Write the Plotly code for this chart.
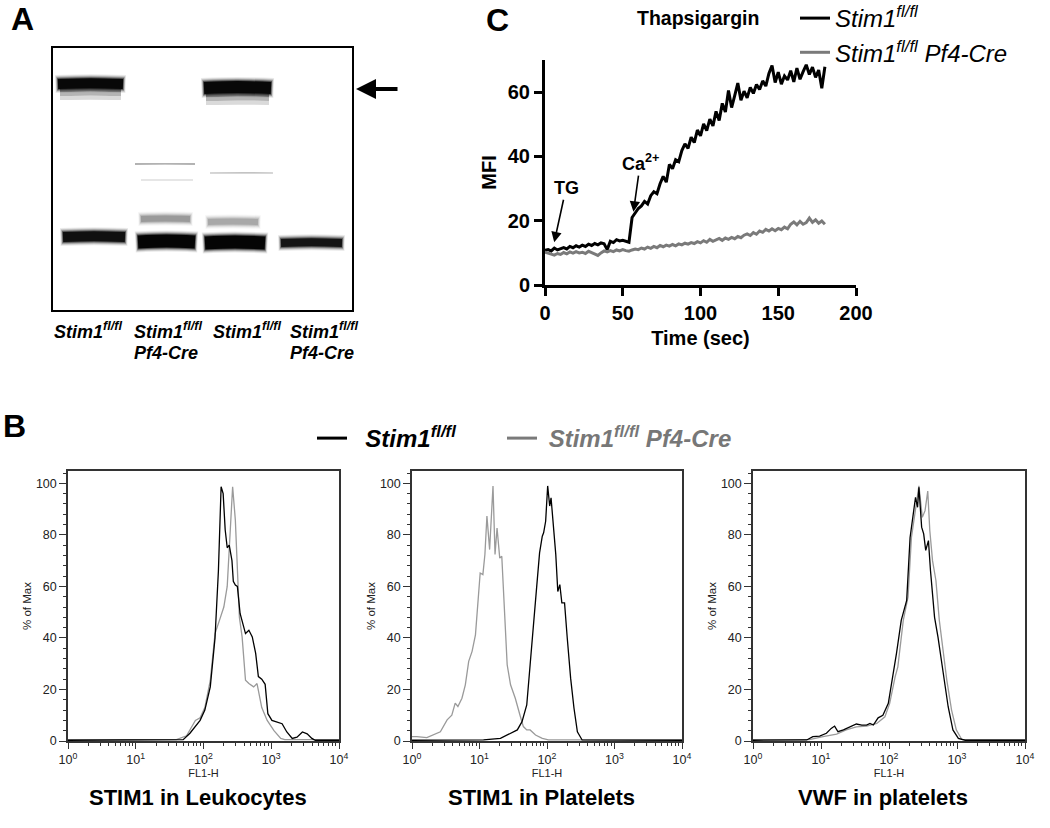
import plotly.graph_objects as go

W, H = 1050, 828
FONT = "Liberation Sans, Arial, Helvetica, sans-serif"

# ---------------- Panel C: Ca2+ flux (MFI vs time) ----------------
time_sec = list(range(0, 181, 2))
mfi_fl = [10.8, 11.0, 10.6, 11.5, 10.9, 11.3, 11.6, 11.2, 12.0, 11.6,
          12.2, 11.8, 12.4, 12.0, 12.7, 12.3, 12.9, 12.5, 13.1, 12.8,
          11.0, 13.6, 13.2, 14.1, 13.7, 13.9, 13.5, 13.3, 21.0, 22.5,
          23.8, 24.6, 26.0, 25.2, 27.8, 29.0, 28.4, 31.5, 33.8, 32.0,
          37.5, 36.2, 39.0, 38.4, 41.8, 43.9, 42.5, 46.0, 44.3, 48.2,
          46.4, 50.1, 48.0, 51.6, 49.5, 54.0, 51.2, 56.5, 53.8, 60.5,
          55.2, 58.9, 62.8, 57.5, 60.3, 58.2, 61.5, 59.6, 62.4, 60.8,
          63.5, 61.9, 65.8, 68.3, 63.0, 66.2, 62.5, 65.0, 63.8, 66.7,
          63.2, 67.5, 64.0, 66.4, 68.5, 65.5, 67.8, 64.6, 66.9, 61.2,
          67.9]
mfi_cre = [10.2, 10.0, 9.6, 9.3, 9.8, 9.5, 10.1, 9.7, 10.3, 9.9,
           10.4, 10.0, 10.2, 9.8, 10.5, 10.1, 9.6, 9.2, 10.0, 10.6,
           10.3, 10.7, 10.4, 10.9, 10.6, 11.0, 10.7, 10.5, 10.9, 11.2,
           11.0, 11.5, 11.2, 11.8, 11.4, 12.0, 11.6, 12.3, 11.9, 12.4,
           12.1, 12.6, 12.2, 12.8, 12.5, 13.0, 12.7, 13.2, 12.9, 13.5,
           13.1, 13.8, 13.3, 14.2, 13.6, 14.0, 14.5, 13.9, 14.6, 14.2,
           14.8, 14.4, 15.1, 14.7, 15.5, 15.9, 15.4, 16.3, 15.8, 16.8,
           16.4, 17.3, 16.8, 17.5, 16.9, 17.6, 17.2, 18.0, 17.5, 18.9,
           19.6, 18.7, 19.8, 18.9, 19.4, 20.8, 19.5, 20.3, 19.2, 19.9,
           18.9]
c_xticks = [0, 50, 100, 150, 200]
c_yticks = [0, 20, 40, 60]

# ---------------- Panel B: flow cytometry histograms ----------------
# log10(FL1-H) positions and % of Max
leuk_fl_log = [0, 1.6, 1.7, 1.8, 1.95, 2.02, 2.1, 2.17, 2.22, 2.26, 2.29, 2.32, 2.35, 2.38, 2.42, 2.44,
               2.47, 2.5, 2.54, 2.62, 2.67, 2.72, 2.77, 2.81, 2.86, 2.91, 2.95, 3.01, 3.09, 3.16,
               3.23, 3.31, 3.38, 3.46, 3.53, 3.6, 3.65, 4]
leuk_fl_pct = [0.3, 0.3, 0.5, 3, 8, 12, 21, 40, 66, 98.7, 96, 82, 75, 76, 70, 62,
               60.5, 60, 49.5, 41.7, 43, 40.4, 34, 25, 24, 22, 10.6, 8, 7.4, 6.7,
               3.5, 1, 1.5, 3.5, 2.8, 1, 0.3, 0.3]
leuk_cre_log = [0, 1.6, 1.75, 1.88, 1.95, 2.02, 2.1, 2.17, 2.25, 2.3, 2.35, 2.4, 2.43, 2.47, 2.5,
                2.53, 2.57, 2.62, 2.67, 2.74, 2.79, 2.86, 2.94, 3.04, 3.14, 3.2, 4]
leuk_cre_pct = [0.5, 0.5, 2, 8, 9, 13, 23.5, 41.7, 48, 52, 60, 85.8, 98.7, 85.8, 65,
                48, 40.4, 23.6, 22.3, 21, 22.3, 13, 8, 4, 1, 0.5, 0.5]

plt_fl_log = [0, 1.06, 1.31, 1.46, 1.56, 1.63, 1.7, 1.75, 1.8, 1.85, 1.89, 1.93, 1.95, 1.98, 2.01,
              2.04, 2.06, 2.1, 2.13, 2.16, 2.19, 2.22, 2.26, 2.3, 2.35, 2.4, 2.45, 2.52, 4]
plt_fl_pct = [0.3, 0.4, 1, 3, 4.3, 7.5, 14, 29.6, 43.8, 60.7, 73, 79.5, 80.8, 85.3, 99,
              91.2, 94.4, 81.5, 72.4, 58, 60.7, 53.6, 53.6, 40, 24.4, 12.7, 3.6, 0.4, 0.3]
plt_cre_log = [0, 0.07, 0.22, 0.32, 0.42, 0.52, 0.59, 0.64, 0.68, 0.74, 0.79, 0.84, 0.89, 0.94, 0.97,
               1.01, 1.05, 1.08, 1.11, 1.15, 1.2, 1.23, 1.26, 1.3, 1.33, 1.37, 1.41, 1.46, 1.53,
               1.6, 1.65, 1.7, 1.75, 1.83, 1.93, 2.02, 4]
plt_cre_pct = [1.7, 1.7, 1.3, 2.3, 3.6, 8.2, 10, 14.7, 13.4, 16.6, 21.8, 30.9, 34.8, 41.2, 50.3,
               65.2, 64.6, 72.4, 87.3, 74.3, 99, 72.4, 82.7, 71, 71.7, 51.6, 29.6, 21.8, 16.6,
               10, 5.6, 4.3, 4.3, 2.3, 1, 0.4, 0.4]

vwf_fl_log = [0, 0.79, 0.88, 0.98, 1.08, 1.15, 1.2, 1.25, 1.33, 1.42, 1.52, 1.6, 1.67, 1.72, 1.77,
              1.84, 1.91, 1.99, 2.04, 2.11, 2.18, 2.26, 2.31, 2.36, 2.39, 2.42, 2.44, 2.48, 2.51,
              2.54, 2.58, 2.61, 2.67, 2.72, 2.8, 2.87, 2.94, 3.02, 3.12, 4]
vwf_fl_pct = [0.3, 0.4, 1.7, 1.9, 3, 4.9, 5.8, 3.6, 4.3, 5.3, 6.6, 6.2, 6.2, 6.8, 6.2,
              9, 10, 14.6, 22.3, 34, 46.8, 54.6, 79, 89.4, 94.6, 90.7, 98.5, 83, 80.4,
              74, 77.8, 66.2, 48, 40.4, 24.9, 13.3, 4.3, 1, 0.3, 0.3]
vwf_cre_log = [0, 0.83, 1.03, 1.23, 1.37, 1.52, 1.67, 1.82, 1.94, 2.01, 2.09, 2.13, 2.21, 2.28, 2.33,
               2.4, 2.44, 2.49, 2.53, 2.57, 2.6, 2.64, 2.69, 2.74, 2.8, 2.85, 2.92, 2.99, 3.07, 3.15, 4]
vwf_cre_pct = [0.5, 0.5, 1.7, 2.7, 4.3, 5.5, 5.8, 6.8, 9.4, 14.6, 24.9, 28.8, 46.8, 55.9, 79,
               92, 99, 86.8, 89.4, 97, 81.7, 70, 62.3, 46.8, 34, 23.6, 12, 4.3, 0.6, 0.5, 0.5]

hist_titles = ["STIM1 in Leukocytes", "STIM1 in Platelets", "VWF in platelets"]
hist_pct_ticks = [0, 20, 40, 60, 80, 100]
hist_x_ticks = [1, 10, 100, 1000, 10000]
hist_x_ticktext = ["10<sup>0</sup>", "10<sup>1</sup>", "10<sup>2</sup>", "10<sup>3</sup>", "10<sup>4</sup>"]

# ---------------- Panel A: western blot bands ----------------
lane_labels_top = ["Stim1<sup>fl/fl</sup>"] * 4
lane_labels_bottom = ["", "Pf4-Cre", "", "Pf4-Cre"]
# band: x start, x end, y centre (gel units, top = 0), thickness, grey level
band_x0 = [7, 7, 7, 153, 153, 153, 5, 151, 10, 85, 152, 228, 88, 155, 82, 157, 88]
band_x1 = [68, 68, 68, 216, 216, 216, 70, 218, 72, 142, 212, 289, 137, 205, 142, 220, 140]
band_y = [42, 46, 50, 47, 51, 55, 36, 40, 189, 194, 195, 195, 171, 174, 116, 125, 132]
band_thick = [4, 4, 4, 4, 4, 4, 10, 12, 10, 13, 13, 8, 6, 6, 1.4, 1.2, 1.5]
band_grey = ["#8a8a8a", "#b4b4b4", "#dadada", "#8a8a8a", "#b4b4b4", "#dadada",
             "#080808", "#080808", "#101010", "#050505", "#050505", "#141414",
             "#9a9a9a", "#a8a8a8", "#999999", "#b0b0b0", "#dedede"]

BLACK = "#000000"
GREY_C = "#7a7a7a"
GREY_H = "#9a9a9a"
NB = "\u00a0"

fig = go.Figure()

# Panel C traces
fig.add_trace(go.Scatter(x=time_sec, y=mfi_fl, mode="lines", line=dict(color=BLACK, width=3),
                         name="<i>Stim1<sup>fl/fl</sup></i>", legend="legend", xaxis="x", yaxis="y"))
fig.add_trace(go.Scatter(x=time_sec, y=mfi_cre, mode="lines", line=dict(color=GREY_C, width=3),
                         name="<i>Stim1<sup>fl/fl</sup> Pf4-Cre</i>", legend="legend", xaxis="x", yaxis="y"))

# Panel B traces
hist_sets = [(leuk_fl_log, leuk_fl_pct, leuk_cre_log, leuk_cre_pct),
             (plt_fl_log, plt_fl_pct, plt_cre_log, plt_cre_pct),
             (vwf_fl_log, vwf_fl_pct, vwf_cre_log, vwf_cre_pct)]
for i, (fl_l, fl_p, cre_l, cre_p) in enumerate(hist_sets):
    ax = str(i + 2)
    fig.add_trace(go.Scatter(x=[10 ** v for v in cre_l], y=cre_p, mode="lines",
                             line=dict(color=GREY_H, width=1.3), showlegend=False,
                             xaxis="x" + ax, yaxis="y" + ax))
    fig.add_trace(go.Scatter(x=[10 ** v for v in fl_l], y=fl_p, mode="lines",
                             line=dict(color=BLACK, width=1.3), showlegend=False,
                             xaxis="x" + ax, yaxis="y" + ax))
# legend-only entries for panel B
fig.add_trace(go.Scatter(x=[None], y=[None], mode="lines", line=dict(color=BLACK, width=3),
                         name=NB + NB + "<b><i>Stim1<sup>fl/fl</sup></i></b>", legend="legend2",
                         xaxis="x2", yaxis="y2"))
fig.add_trace(go.Scatter(x=[None], y=[None], mode="lines", line=dict(color=GREY_C, width=3),
                         name=NB + '<b><i><span style="color:#777777">Stim1<sup>fl/fl</sup> Pf4-Cre</span></i></b>',
                         legend="legend2", xaxis="x2", yaxis="y2"))
# spacer entry so the last legend entry is not clipped
fig.add_trace(go.Scatter(x=[None], y=[None], mode="lines", line=dict(color="rgba(0,0,0,0)", width=0),
                         name=NB, legend="legend2", xaxis="x2", yaxis="y2", hoverinfo="skip"))

# Panel A bands (soft halo layers then core)
for x0, x1, yc, th, g in zip(band_x0, band_x1, band_y, band_thick, band_grey):
    if th >= 6:
        for extra, op in [(8, 0.08), (6, 0.14), (4, 0.25), (2, 0.45)]:
            fig.add_trace(go.Scatter(x=[x0 - extra / 3, (x0 + x1) / 2, x1 + extra / 3],
                                     y=[yc, yc - th * 0.08, yc], mode="lines",
                                     line=dict(color=g, width=th + extra, shape="spline"), opacity=op,
                                     showlegend=False, hoverinfo="skip", xaxis="x5", yaxis="y5"))
    fig.add_trace(go.Scatter(x=[x0, (x0 + x1) / 2, x1], y=[yc, yc - th * 0.08, yc], mode="lines",
                             line=dict(color=g, width=th, shape="spline"),
                             showlegend=False, hoverinfo="skip", xaxis="x5", yaxis="y5"))

# ---------------- Layout ----------------
def px_x(p):
    return p / W

def px_y(p):
    return 1 - p / H

bold = dict(family=FONT, size=20, color="black", weight="bold")

layout = dict(
    width=W, height=H, margin=dict(l=0, r=0, t=0, b=0, autoexpand=False),
    paper_bgcolor="white", plot_bgcolor="white",
    font=dict(family=FONT, color="black"),
    showlegend=True,
    xaxis=dict(domain=[px_x(545), px_x(856)], range=[0, 200], tickvals=c_xticks, automargin=False,
               showline=True, linecolor="black", linewidth=3, ticks="outside", ticklen=8,
               tickwidth=3, tickcolor="black", tickfont=bold, showgrid=False, zeroline=False,
               title=dict(text="Time (sec)", font=bold, standoff=8)),
    yaxis=dict(domain=[px_y(285), px_y(60)], range=[0, 70], tickvals=c_yticks, automargin=False,
               showline=True, linecolor="black", linewidth=3, ticks="outside", ticklen=8,
               tickwidth=3, tickcolor="black", tickfont=bold, showgrid=False, zeroline=False,
               title=dict(text="MFI", font=bold, standoff=6)),
    legend=dict(x=px_x(795), y=px_y(-4), xanchor="left", yanchor="top",
                font=dict(family=FONT, size=24, color="black"),
                bgcolor="rgba(0,0,0,0)", tracegroupgap=0, itemwidth=30),
    legend2=dict(orientation="h", x=px_x(312), y=px_y(416), xanchor="left", yanchor="top",
                 font=dict(family=FONT, size=24, color="black"),
                 bgcolor="rgba(0,0,0,0)", entrywidth=145, entrywidthmode="pixels", itemwidth=30),
    xaxis5=dict(domain=[px_x(53), px_x(352)], range=[0, 299], showline=True, mirror=True,
                linecolor="black", linewidth=1.5, showticklabels=False, ticks="", automargin=False,
                showgrid=False, zeroline=False, anchor="y5"),
    yaxis5=dict(domain=[px_y(310), px_y(48)], range=[262, 0], showline=True, mirror=True,
                linecolor="black", linewidth=1.5, showticklabels=False, ticks="", automargin=False,
                showgrid=False, zeroline=False, anchor="x5"),
)

hist_x_domains = [(68, 339), (412, 682), (753, 1025)]
minor_vals = [m * 10 ** e for e in range(0, 4) for m in range(2, 10)]
small = dict(family=FONT, size=12.5, color="#222222")
for i, (l, r) in enumerate(hist_x_domains):
    ax = str(i + 2)
    layout["xaxis" + ax] = dict(
        domain=[px_x(l), px_x(r)], type="log", range=[0, 4], anchor="y" + ax, automargin=False,
        tickmode="array", tickvals=hist_x_ticks, ticktext=hist_x_ticktext,
        showline=True, mirror=True, linecolor="#333333", linewidth=1.5,
        ticks="outside", ticklen=6, tickwidth=1, tickcolor="#333333", tickfont=small,
        minor=dict(tickmode="array", tickvals=minor_vals, ticks="outside", ticklen=3,
                   tickcolor="#333333", showgrid=False),
        showgrid=False, zeroline=False,
        title=dict(text="FL1-H", font=dict(family=FONT, size=11, color="#222222"), standoff=0))
    layout["yaxis" + ax] = dict(
        domain=[px_y(741), px_y(471)], range=[0, 104.8], anchor="x" + ax, automargin=False,
        tickvals=hist_pct_ticks, showline=True, mirror=True, linecolor="#333333", linewidth=1.5,
        ticks="outside", ticklen=7, tickwidth=1, tickcolor="#333333", tickfont=small,
        minor=dict(dtick=4, ticks="outside", ticklen=3, tickcolor="#333333", showgrid=False),
        showgrid=False, zeroline=False,
        title=dict(text="% of Max", font=dict(family=FONT, size=11.5, color="#222222"), standoff=2))

fig.update_layout(**layout)

def note(text, x, y, size, **kw):
    d = dict(text=text, x=px_x(x), y=px_y(y), xref="paper", yref="paper", showarrow=False,
             xanchor="center", yanchor="middle", font=dict(family=FONT, size=size, color="black"))
    d.update(kw)
    return d

ann = []
# panel letters
for letter, x, y in [("A", 22, 19), ("C", 497, 20), ("B", 14, 426)]:
    ann.append(note("<b>%s</b>" % letter, x, y, 32))
# panel C title
ann.append(note("<b>Thapsigargin</b>", 698, 18, 19.5))
# TG and Ca2+ markers
ann.append(dict(text="<b>TG</b>", x=5.8, y=13, xref="x", yref="y", ax=12, ay=-55,
                showarrow=True, arrowhead=2, arrowsize=1.3, arrowwidth=1.6, arrowcolor="black",
                font=dict(family=FONT, size=18, color="black"), standoff=1))
ann.append(dict(text="<b>Ca<sup>2+</sup></b>", x=56.8, y=22.5, xref="x", yref="y", ax=7, ay=-50,
                showarrow=True, arrowhead=2, arrowsize=1.3, arrowwidth=1.6, arrowcolor="black",
                font=dict(family=FONT, size=18, color="black"), standoff=1))
# histogram titles
for t, (l, r) in zip(hist_titles, hist_x_domains):
    ann.append(note("<b>%s</b>" % t, (l + r) / 2 - 6, 797, 22))
# blot lane labels
lane_centres = [88, 168, 247, 324]
for xc, top, bot in zip(lane_centres, lane_labels_top, lane_labels_bottom):
    ann.append(note("<b><i>%s</i></b>" % top, xc, 330, 18))
    if bot:
        ann.append(note("<b><i>%s</i></b>" % bot, xc - 2, 353, 18))
# blot arrow
ann.append(dict(text="", x=px_x(356), y=px_y(89), xref="paper", yref="paper", ax=43, ay=0,
                showarrow=True, arrowhead=2, arrowsize=1.0, arrowwidth=4, arrowcolor="black"))
fig.update_layout(annotations=ann)

fig.write_html("out.html", config={"displayModeBar": False},
               post_script="document.body.style.margin='0px';document.body.style.overflow='hidden';")
